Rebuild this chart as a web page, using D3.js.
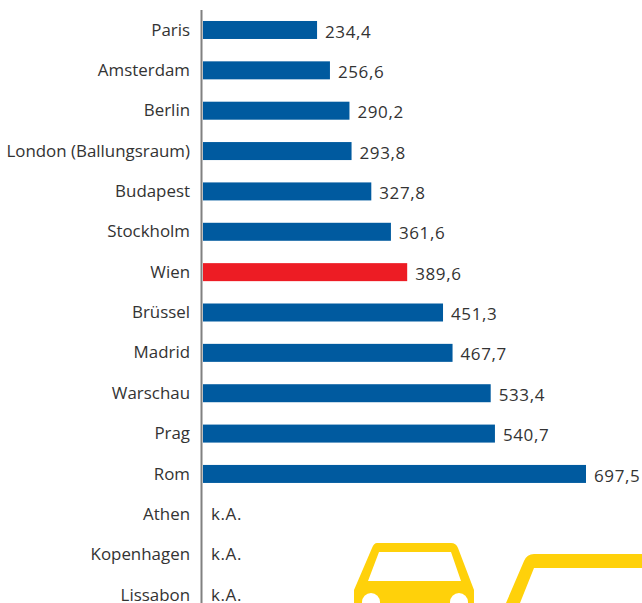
<!DOCTYPE html>
<html>
<head>
<meta charset="utf-8">
<script src="https://cdn.jsdelivr.net/npm/d3@7"></script>
<style>
  html, body { margin: 0; padding: 0; background: #fff; overflow: hidden; }
  svg { display: block; }
  text { font-family: "Open Sans", "Noto Sans", sans-serif; fill: #333; }
  .city { font-size: 16.9px; }
  .value { font-size: 17px; letter-spacing: 0.6px; }
</style>
</head>
<body>
<div id="chart"></div>
<script>
// Values as printed in the chart, null = k.A.
const cities = ['Paris', 'Amsterdam', 'Berlin', 'London (Ballungsraum)', 'Budapest', 'Stockholm', 'Wien',
  'Brüssel', 'Madrid', 'Warschau', 'Prag', 'Rom', 'Athen', 'Kopenhagen', 'Lissabon'];
const values = [234.4, 256.6, 290.2, 293.8, 327.8, 361.6, 389.6, 451.3, 467.7, 533.4, 540.7, 697.5, null, null, null];
const highlight = 'Wien';

const width = 642;
const height = 603;

const svg = d3.select('#chart')
  .append('svg')
  .attr('width', width)
  .attr('height', height);

// The bars in the original do not start at zero
const x = d3.scaleLinear()
  .domain([38, 697.5])
  .range([203, 586]);

const y = d3.scaleBand()
  .domain(cities)
  .range([9.8, 615.2])
  .paddingInner(0.554)
  .paddingOuter(0.277);

const rows = cities.map((city, i) => ({ city, value: values[i] }));

// Car icon behind the chart
const icon = svg.append('g').attr('fill', '#ffd10a');
icon.append('path')
  .attr('fill-rule', 'evenodd')
  .attr('d', 'M377,543 H451 Q456,543 458,548 L474,590 V603 H354 V590 L372,548 Q374,543 377,543 Z M379,552 L368,581 H461 L451,552 Z');
icon.append('circle').attr('cx', 371).attr('cy', 602).attr('r', 9).attr('fill', '#fff');
icon.append('circle').attr('cx', 459).attr('cy', 602).attr('r', 9).attr('fill', '#fff');
icon.append('path')
  .attr('d', 'M642,554 H534 Q527,554 524,561 L506,603 H520 L534,568 H642 Z');

// Bars
svg.append('g')
  .selectAll('rect')
  .data(rows.filter(d => d.value !== null))
  .enter()
  .append('rect')
  .attr('x', x.range()[0])
  .attr('y', d => y(d.city))
  .attr('width', d => x(d.value) - x.range()[0])
  .attr('height', y.bandwidth())
  .attr('fill', d => d.city === highlight ? '#ed1c24' : '#005a9f');

// Axis line
svg.append('line')
  .attr('x1', 201.5)
  .attr('x2', 201.5)
  .attr('y1', 10)
  .attr('y2', height)
  .attr('stroke', '#808080')
  .attr('stroke-width', 2);

// City labels
svg.append('g')
  .selectAll('text')
  .data(rows)
  .enter()
  .append('text')
  .attr('class', 'city')
  .attr('x', 190)
  .attr('y', d => y(d.city) + y.bandwidth() / 2)
  .attr('dy', '0.33em')
  .attr('text-anchor', 'end')
  .text(d => d.city);

// Value labels
svg.append('g')
  .selectAll('text')
  .data(rows)
  .enter()
  .append('text')
  .attr('class', 'value')
  .attr('x', d => d.value === null ? 211 : x(d.value) + 8)
  .attr('y', d => y(d.city) + y.bandwidth() / 2 + (d.value === null ? 0 : 2))
  .attr('dy', '0.33em')
  .text(d => d.value === null ? 'k.A.' : String(d.value).replace('.', ','));
</script>
</body>
</html>
